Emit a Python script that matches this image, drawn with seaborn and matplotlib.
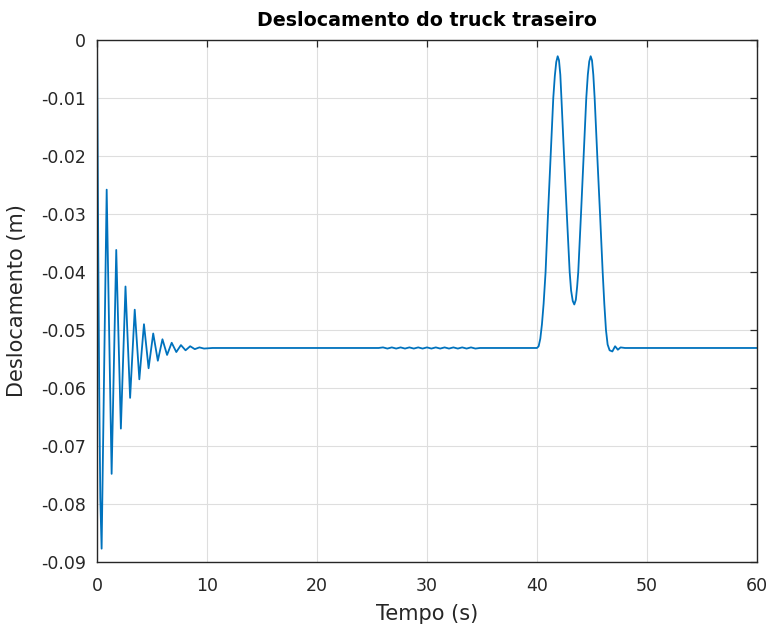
import matplotlib
matplotlib.use("Agg")
import matplotlib.pyplot as plt
import numpy as np
import pandas as pd
import seaborn as sns

# Initial transient: released from rest, damped oscillation around the static position
t_partida = [0.00, 0.10, 0.20, 0.30, 0.42, 0.88, 1.33, 1.75, 2.17, 2.59, 3.01, 3.43,
             3.85, 4.27, 4.69, 5.11, 5.53, 5.95, 6.37, 6.79, 7.21, 7.63, 8.05,
             8.47, 8.89, 9.31, 9.73, 10.50, 25.20]
d_partida = [0.0000, -0.0320, -0.0600, -0.0790, -0.0877, -0.0258, -0.0748, -0.0362,
             -0.0670, -0.0425, -0.0617, -0.0465, -0.0585, -0.0490, -0.0566, -0.0506,
             -0.0553, -0.0516, -0.0543, -0.0522, -0.0538, -0.0526, -0.0535, -0.0528,
             -0.0533, -0.0530, -0.0532, -0.0531, -0.0531]

# Small ripple while the front truck crosses the first obstacle
t_ondulacao = [25.6, 26.0, 26.4, 26.8, 27.2, 27.6, 28.0, 28.4, 28.8, 29.2, 29.6,
               30.0, 30.4, 30.8, 31.2, 31.6, 32.0, 32.4, 32.8, 33.2, 33.6, 34.0,
               34.4, 34.8, 35.2, 35.6]
d_ondulacao = [-0.0531, -0.0530, -0.0532, -0.0530, -0.0532, -0.0530, -0.0532, -0.0530,
               -0.0532, -0.0530, -0.0532, -0.0530, -0.0532, -0.0530, -0.0532, -0.0530,
               -0.0532, -0.0530, -0.0532, -0.0530, -0.0532, -0.0530, -0.0532, -0.0531,
               -0.0531, -0.0531]

# Passage over the double bump
t_lombada = [40.00, 40.15, 40.30, 40.45, 40.60, 40.78, 41.00, 41.24, 41.48, 41.62,
             41.75, 41.88, 42.00, 42.12, 42.22, 42.46, 42.71, 42.97, 43.10, 43.25,
             43.39, 43.53, 43.65, 43.75, 44.00, 44.24, 44.48, 44.62, 44.75, 44.88,
             45.00, 45.12, 45.24, 45.48, 45.73, 45.97, 46.12, 46.27, 46.42, 46.60,
             46.85, 47.10, 47.35, 47.60, 48.00, 60.00]
d_lombada = [-0.0531, -0.0528, -0.0515, -0.0490, -0.0455, -0.0400, -0.0300, -0.0200,
             -0.0100, -0.0062, -0.0038, -0.0028, -0.0035, -0.0060, -0.0100, -0.0200,
             -0.0300, -0.0400, -0.0432, -0.0450, -0.0456, -0.0448, -0.0425, -0.0400,
             -0.0300, -0.0200, -0.0100, -0.0060, -0.0037, -0.0028, -0.0035, -0.0060,
             -0.0100, -0.0200, -0.0300, -0.0400, -0.0455, -0.0500, -0.0525, -0.0535,
             -0.0537, -0.0528, -0.0534, -0.0530, -0.0531, -0.0531]

x_ticks = [0, 10, 20, 30, 40, 50, 60]
x_labels = ["0", "10", "20", "30", "40", "50", "60"]
y_ticks = [-0.09, -0.08, -0.07, -0.06, -0.05, -0.04, -0.03, -0.02, -0.01, 0.0]
y_labels = ["-0.09", "-0.08", "-0.07", "-0.06", "-0.05", "-0.04", "-0.03", "-0.02",
            "-0.01", "0"]

df = pd.DataFrame({
    "tempo": t_partida + t_ondulacao + t_lombada,
    "deslocamento": d_partida + d_ondulacao + d_lombada,
})

sns.set_style("white")
plt.rcParams["font.family"] = ["DejaVu Sans"]

fig = plt.figure(figsize=(7.72, 6.32), dpi=100)
ax = fig.add_axes([97 / 772, 1 - 562 / 632, 660 / 772, 522 / 632])

sns.lineplot(data=df, x="tempo", y="deslocamento", ax=ax, color="#0072BD",
             linewidth=1.3, estimator=None, sort=False)

ax.set_xlim(0, 60)
ax.set_ylim(-0.09, 0)
ax.set_xticks(x_ticks)
ax.set_xticklabels(x_labels)
ax.set_yticks(y_ticks)
ax.set_yticklabels(y_labels)

ax.grid(True, color="#dedede", linewidth=0.8)
ax.set_axisbelow(True)

for side in ["left", "right", "top", "bottom"]:
    ax.spines[side].set_visible(True)
    ax.spines[side].set_color("#262626")
    ax.spines[side].set_linewidth(1.0)

ax.tick_params(axis="both", direction="in", top=True, right=True, length=5,
               width=0.9, color="#262626", labelsize=12.5, labelcolor="#262626")
ax.tick_params(axis="x", pad=11)
ax.tick_params(axis="y", pad=8)

ax.set_xlabel("Tempo (s)", fontsize=15, color="#262626", labelpad=6)
ax.set_ylabel("Deslocamento (m)", fontsize=15, color="#262626", labelpad=10)
ax.set_title("Deslocamento do truck traseiro", fontsize=13.7, fontweight="bold",
             color="black", pad=10)

fig.savefig("out.png", dpi=100, facecolor="white")
